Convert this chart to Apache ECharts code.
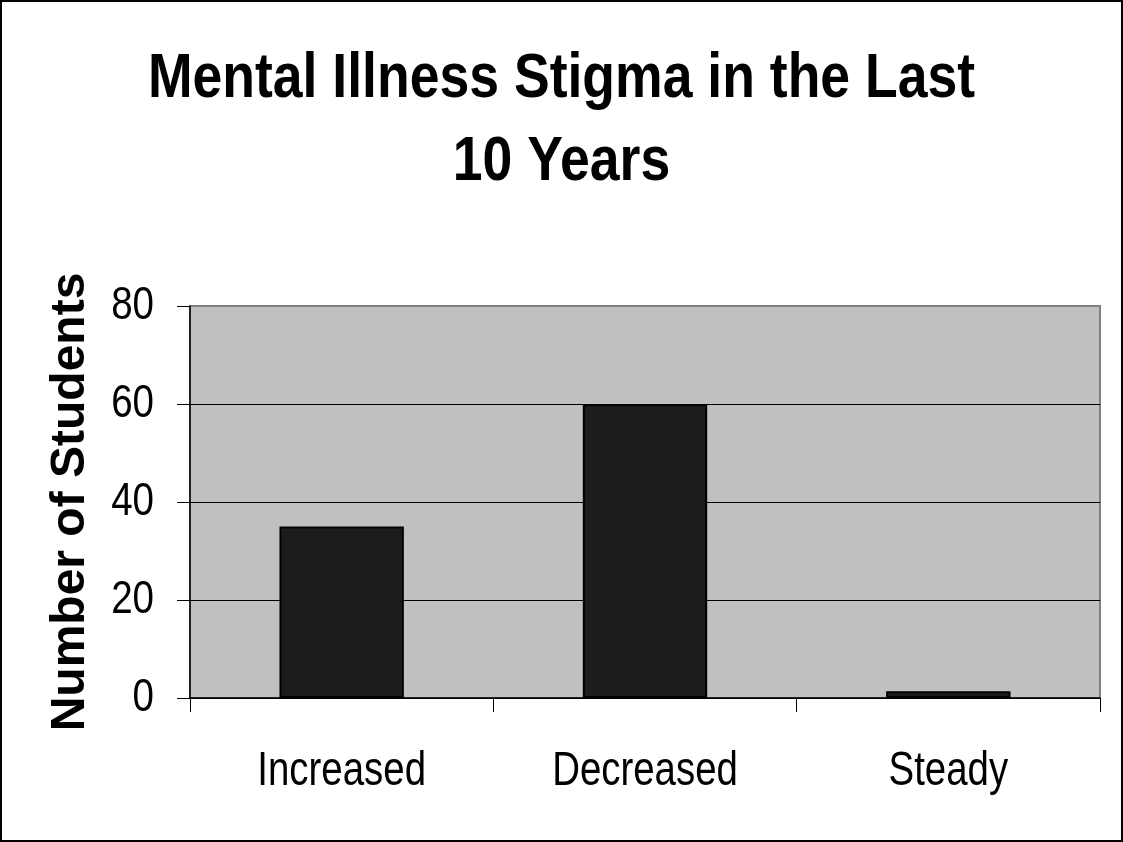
<!DOCTYPE html>
<html>
<head>
<meta charset="utf-8">
<script src="https://cdn.jsdelivr.net/npm/echarts@6/dist/echarts.min.js"></script>
<style>
  html, body { margin: 0; padding: 0; background: #fff; }
  #chart { width: 1123px; height: 842px; }
</style>
</head>
<body>
<div id="chart"></div>
<script>
// Survey responses: how students think mental illness stigma has changed
const categories = ['Increased', 'Decreased', 'Steady'];
const studentCounts = [35, 60, 1.4];
const yTicks = [0, 20, 40, 60, 80];

const titleText = 'Mental Illness Stigma in the Last\n10 Years';
const yAxisTitle = 'Number of Students';

const sans = '"Liberation Sans", Arial, sans-serif';
// condensed look for the title and tick labels (narrow face drawn by horizontal scaling)
const narrowScale = 0.82;

const chart = echarts.init(document.getElementById('chart'), null, { renderer: 'canvas' });

chart.setOption({
  backgroundColor: '#ffffff',
  animation: false,
  grid: {
    left: 190,
    right: 23,
    top: 306,
    bottom: 144,
    show: true,
    backgroundColor: '#c0c0c0',
    borderColor: '#808080',
    borderWidth: 2
  },
  xAxis: {
    type: 'category',
    data: categories,
    boundaryGap: true,
    axisLine: { show: true, lineStyle: { color: '#000', width: 1.5 } },
    axisTick: { show: true, length: 14, inside: false, lineStyle: { color: '#000', width: 1 } },
    axisLabel: { show: false },
    splitLine: { show: false }
  },
  yAxis: {
    type: 'value',
    min: yTicks[0],
    max: yTicks[yTicks.length - 1],
    interval: yTicks[1] - yTicks[0],
    name: yAxisTitle,
    nameLocation: 'middle',
    nameRotate: 90,
    nameGap: 95,
    nameTextStyle: {
      fontFamily: sans,
      fontWeight: 'bold',
      fontSize: 48,
      color: '#000'
    },
    axisLine: { show: true, lineStyle: { color: '#000', width: 1.5 } },
    axisTick: { show: true, length: 13, inside: false, lineStyle: { color: '#000', width: 1 } },
    axisLabel: { show: false },
    splitLine: {
      show: true,
      lineStyle: { color: ['#000', '#000', '#000', '#000', '#808080'], width: 1 }
    }
  },
  series: [{
    type: 'bar',
    data: studentCounts,
    barWidth: '41%',
    itemStyle: {
      color: '#1c1c1c',
      borderColor: '#000',
      borderWidth: 2
    }
  }]
});

// Narrow text pieces: title and tick labels, placed through the axes' own scales
function narrowText(x, y, text, opts) {
  return {
    type: 'group',
    x: x,
    y: y,
    scaleX: opts.scale,
    silent: true,
    children: [{
      type: 'text',
      style: {
        x: 0,
        y: 0,
        text: text,
        fill: '#000',
        font: (opts.bold ? 'bold ' : '') + opts.size + 'px ' + sans,
        lineHeight: opts.lineHeight || opts.size,
        align: opts.align,
        verticalAlign: opts.verticalAlign
      }
    }]
  };
}

const axisBottom = chart.convertToPixel({ yAxisIndex: 0 }, yTicks[0]);
const axisLeft = chart.convertToPixel({ xAxisIndex: 0 }, 0) -
  (chart.convertToPixel({ xAxisIndex: 0 }, 1) - chart.convertToPixel({ xAxisIndex: 0 }, 0)) / 2;

const graphics = [];

graphics.push(narrowText(561.5, 38, titleText, {
  scale: 0.85, size: 63, lineHeight: 83, bold: true, align: 'center', verticalAlign: 'top'
}));

categories.forEach(function (c, i) {
  const px = chart.convertToPixel({ xAxisIndex: 0 }, i);
  graphics.push(narrowText(px, axisBottom + 50, c, {
    scale: 0.80, size: 48, align: 'center', verticalAlign: 'top'
  }));
});

yTicks.forEach(function (v) {
  const py = chart.convertToPixel({ yAxisIndex: 0 }, v);
  graphics.push(narrowText(axisLeft - 36, py, String(v), {
    scale: narrowScale, size: 47, align: 'right', verticalAlign: 'middle'
  }));
});

// frame around the whole chart
graphics.push({
  type: 'rect',
  shape: { x: 1, y: 1, width: 1121, height: 840 },
  style: { fill: 'none', stroke: '#000', lineWidth: 2 },
  silent: true,
  z: 100
});

chart.setOption({ graphic: graphics });
</script>
</body>
</html>
